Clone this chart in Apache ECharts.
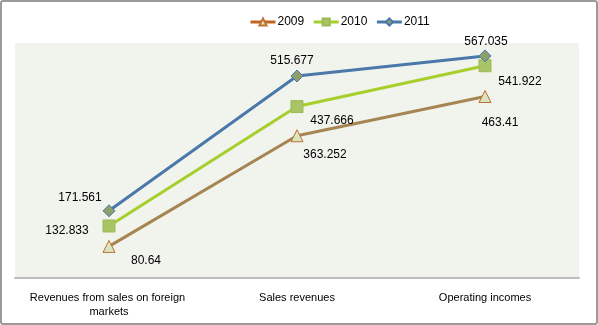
<!DOCTYPE html>
<html>
<head>
<meta charset="utf-8">
<script src="https://cdn.jsdelivr.net/npm/echarts@6/dist/echarts.min.js"></script>
<style>
html,body{margin:0;padding:0;background:#fff;}
#c{width:598px;height:325px;}
</style>
</head>
<body>
<div id="c"></div>
<script>
const categories = ['Revenues from sales on foreign markets', 'Sales revenues', 'Operating incomes'];
const seriesNames = ['2009', '2010', '2011'];
const v2009 = [80.64, 363.252, 463.41];
const v2010 = [132.833, 437.666, 541.922];
const v2011 = [171.561, 515.677, 567.035];

// label offsets (style only, pixels relative to the marker)
const off2009 = [[37, 14], [28, 19], [15, 26]];
const off2010 = [[-42, 5], [35, 14], [35, 16]];
const off2011 = [[-29, -13], [-5, -15], [1, -14]];

const FONT = "'Liberation Sans', Arial, sans-serif";

function mk(vals, offs) {
  return vals.map((v, i) => ({
    value: v,
    label: { offset: offs[i] }
  }));
}

const chart = echarts.init(document.getElementById('c'), null, {renderer: 'canvas'});
chart.setOption({
  animation: false,
  backgroundColor: '#ffffff',
  graphic: [{
    type: 'rect',
    shape: {x: 1, y: 1, width: 596, height: 323, r: 2},
    style: {fill: 'none', stroke: '#9a9a9a', lineWidth: 2},
    z: 100
  }],
  legend: {
    top: 11,
    left: 244,
    itemWidth: 25,
    itemHeight: 9,
    itemGap: 8,
    textStyle: {fontFamily: FONT, fontSize: 12, color: '#000', padding: [0, 0, 0, -3]},
    data: [
      {name: seriesNames[0], lineStyle: {color: '#BF6421', width: 3}},
      {name: seriesNames[1], lineStyle: {width: 3}},
      {name: seriesNames[2], lineStyle: {width: 3}}
    ]
  },
  grid: {
    left: 15, right: 19, top: 43, bottom: 47,
    show: true, backgroundColor: '#F1F4ED', borderWidth: 0
  },
  xAxis: {
    type: 'category',
    data: categories,
    boundaryGap: true,
    axisLine: {lineStyle: {color: '#BDBDBD', width: 2}},
    axisTick: {show: false},
    axisLabel: {
      fontFamily: FONT, fontSize: 11, color: '#000', margin: 13,
      width: 172, overflow: 'break', lineHeight: 14, interval: 0
    }
  },
  yAxis: {
    type: 'value', min: 0, max: 600, show: false,
    splitLine: {show: false}
  },
  series: [
    {
      name: seriesNames[0], type: 'line', data: mk(v2009, off2009),
      symbol: 'triangle', symbolSize: 12,
      lineStyle: {color: '#A68553', width: 3},
      itemStyle: {color: '#D9E4C0', borderColor: '#C0702F', borderWidth: 1},
      label: {show: true, position: 'inside', fontFamily: FONT, fontSize: 12, color: '#000'},
      z: 2
    },
    {
      name: seriesNames[1], type: 'line', data: mk(v2010, off2010),
      symbol: 'rect', symbolSize: 12,
      lineStyle: {color: '#A6CF2C', width: 3},
      itemStyle: {color: '#A9C465', borderColor: '#9DBA58', borderWidth: 1},
      label: {show: true, position: 'inside', fontFamily: FONT, fontSize: 12, color: '#000'},
      z: 3
    },
    {
      name: seriesNames[2], type: 'line', data: mk(v2011, off2011),
      symbol: 'diamond', symbolSize: 12,
      lineStyle: {color: '#4A78AA', width: 3},
      itemStyle: {color: '#8DA06B', borderColor: '#4A78AA', borderWidth: 1},
      label: {show: true, position: 'inside', fontFamily: FONT, fontSize: 12, color: '#000'},
      z: 4
    }
  ]
});
</script>
</body>
</html>
